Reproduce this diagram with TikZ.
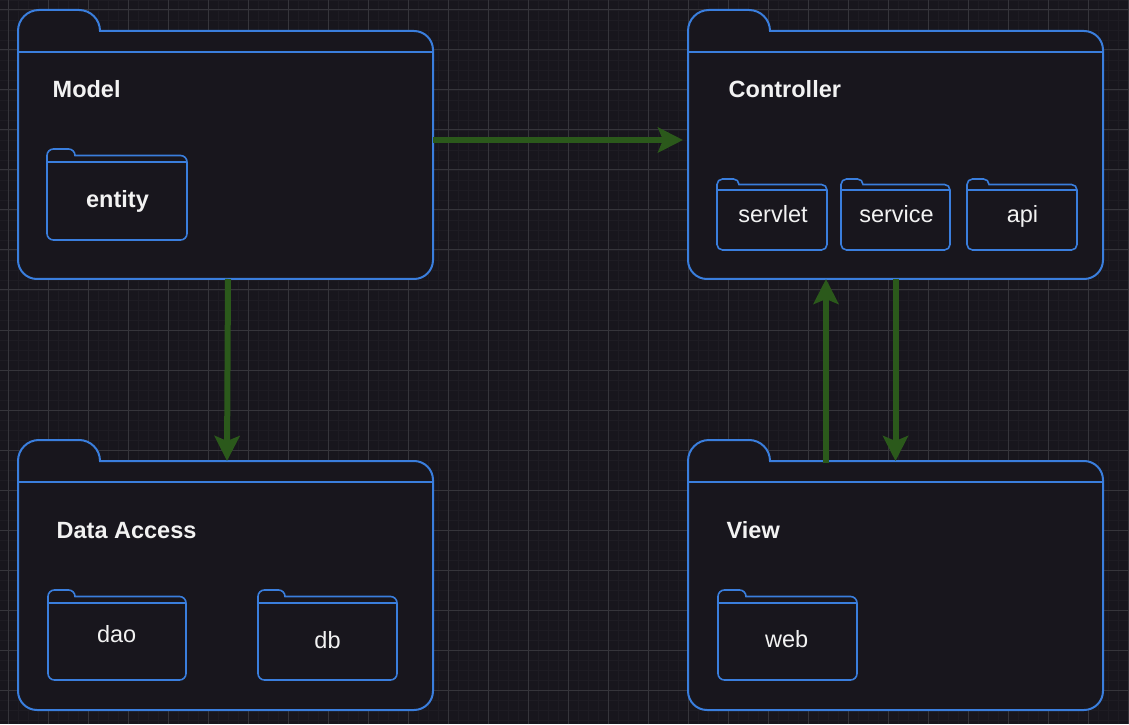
\documentclass[tikz,border=0pt]{standalone}
\usepackage{fontspec}
\setmainfont{Liberation Sans}
\usepackage{tikz}
\usetikzlibrary{arrows.meta}

\definecolor{bgdark}{RGB}{24,22,29}
\definecolor{minorgray}{RGB}{30,28,35}
\definecolor{majorgray}{RGB}{54,53,59}
\definecolor{pkgblue}{RGB}{58,126,221}
\definecolor{flowgreen}{RGB}{43,89,27}
\definecolor{textwhite}{RGB}{242,242,242}

% folder: name, style, left, bottom, width, height, tab width, tab height, corner radius
\newcommand{\pkgfolder}[9]{%
	\draw[#2] (#3,{#4+#9}) -- (#3,{#4+#6-#8}) arc[start angle=180,end angle=90,radius=#8] -- ({#3+#7-#8},{#4+#6}) arc[start angle=90,end angle=0,radius=#8] -- ({#3+#5-#9},{#4+#6-#8}) arc[start angle=90,end angle=0,radius=#9] -- ({#3+#5},{#4+#9}) arc[start angle=0,end angle=-90,radius=#9] -- ({#3+#9},#4) arc[start angle=270,end angle=180,radius=#9] -- cycle;
	\draw[#2] (#3,{#4+#6-2*#8}) -- ({#3+#5},{#4+#6-2*#8});
	\node (#1) [pkgbody, minimum width={#5*1pt}, minimum height={(#6-#8)*1pt}] at ({#3+#5/2},{#4+(#6-#8)/2}) {};%
}

\begin{document}
\begin{tikzpicture}[x=1pt,y=1pt]
	\tikzstyle{minorgrid} = [draw=minorgray, line width=0.7pt]
	\tikzstyle{majorgrid} = [draw=majorgray, line width=1pt]
	\tikzstyle{bigline} = [draw=pkgblue, line width=2pt, fill=bgdark]
	\tikzstyle{subline} = [draw=pkgblue, line width=1.6pt, fill=bgdark]
	\tikzstyle{pkgbody} = [rectangle, draw=none, inner sep=0pt, outer sep=0pt]
	\tikzstyle{pkgtext} = [text=textwhite, anchor=base, inner sep=0pt, font=\fontsize{23.5}{28}\selectfont]
	\tikzstyle{pkgtitle} = [pkgtext, anchor=base west, font=\fontsize{23.5}{28}\selectfont\bfseries]
	\tikzstyle{flow} = [draw=flowgreen, line width=6pt, -{Stealth[length=25pt,width=25pt,inset=5pt]}]

	% Background and grid
	\useasboundingbox (0,0) rectangle (1129,724);
	\fill[bgdark] (0,0) rectangle (1129,724);
	\foreach \gx in {-2,8,...,1128}
	\draw[minorgrid] (\gx,0) -- (\gx,724);
	\foreach \gy in {4,14,...,724}
	\draw[minorgrid] (0,\gy) -- (1129,\gy);
	\foreach \gx in {8,48,...,1128}
	\draw[majorgrid] (\gx,0) -- (\gx,724);
	\foreach \gy in {34,74,...,714}
	\draw[majorgrid] (0,\gy) -- (1129,\gy);

	% Model package
	\pkgfolder{model}{bigline}{18}{445}{415}{269}{82}{21}{19}
	\node (modeltitle) [pkgtitle] at (52.5,626) {Model};
	\pkgfolder{entity}{subline}{47}{484}{140}{91}{28}{6.5}{6.5}
	\node (entitytext) [pkgtext] at (117.5,516) {\bfseries entity};

	% Controller package
	\pkgfolder{controller}{bigline}{688}{445}{415}{269}{82}{21}{19}
	\node (controllertitle) [pkgtitle] at (728.5,626) {Controller};
	\pkgfolder{servlet}{subline}{717}{474}{110}{71}{22}{5.5}{5.5}
	\node (servlettext) [pkgtext] at (773,501) {servlet};
	\pkgfolder{service}{subline}{841}{474}{109}{71}{22}{5.5}{5.5}
	\node (servicetext) [pkgtext] at (896.5,501) {service};
	\pkgfolder{api}{subline}{967}{474}{110}{71}{22}{5.5}{5.5}
	\node (apitext) [pkgtext] at (1022.5,501) {api};

	% Data Access package
	\pkgfolder{dataaccess}{bigline}{18}{14}{415}{270}{82}{21}{19}
	\node (dataaccesstitle) [pkgtitle] at (56.5,186) {Data Access};
	\pkgfolder{dao}{subline}{48}{44}{138}{90}{27}{6.5}{6.5}
	\node (daotext) [pkgtext] at (116.7,82) {dao};
	\pkgfolder{db}{subline}{258}{44}{139}{90}{27}{6.5}{6.5}
	\node (dbtext) [pkgtext] at (327.5,76) {db};

	% View package
	\pkgfolder{view}{bigline}{688}{14}{415}{270}{82}{21}{19}
	\node (viewtitle) [pkgtitle] at (726.5,186) {View};
	\pkgfolder{web}{subline}{718}{44}{139}{90}{28}{6.5}{6.5}
	\node (webtext) [pkgtext] at (786.7,77) {web};

	% Dependencies
	\draw[flow] ([xshift=2.5pt]model.south) -- ([xshift=1.5pt]dataaccess.north);
	\draw[flow] ([yshift=15pt]model.east) -- ([xshift=-5pt,yshift=15pt]controller.west);
	\draw[flow] ([xshift=-69.5pt,yshift=-2pt]view.north) -- ([xshift=-69.5pt]controller.south);
	\draw[flow] (controller.south) -- (view.north);
\end{tikzpicture}
\end{document}
